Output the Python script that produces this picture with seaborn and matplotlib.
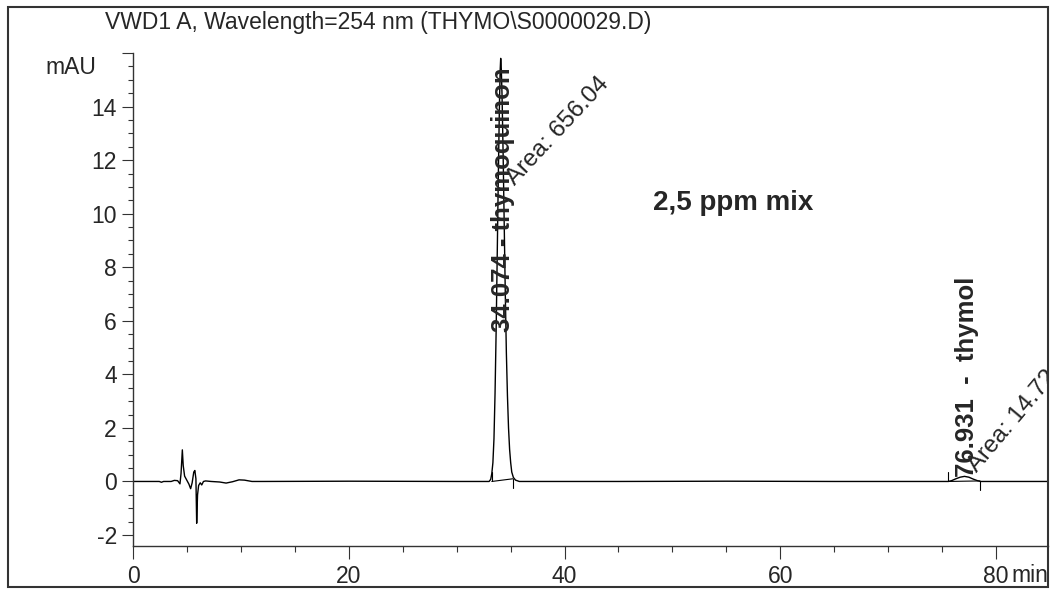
import matplotlib
matplotlib.use("Agg")
import matplotlib.pyplot as plt
from matplotlib.patches import Rectangle
from matplotlib.ticker import MultipleLocator, FixedLocator
import numpy as np
import pandas as pd
import seaborn as sns

# ---------------- data ----------------
time_min = [0.0, 2.4, 2.6, 2.8, 3.5, 3.8, 4.1, 4.32, 4.42, 4.54, 4.62, 4.75, 4.95,
            5.15, 5.31, 5.45, 5.6, 5.7, 5.8, 5.87, 5.95, 6.05, 6.2, 6.34, 6.5, 6.7,
            7.2, 8.0, 8.6, 9.2, 9.8, 10.3, 11.0, 12.0, 20.0, 30.0, 33.0,
            33.15, 33.25, 33.35, 33.45, 33.55, 33.65, 33.75, 33.85, 33.95, 34.02,
            34.074, 34.13, 34.2, 34.3, 34.4, 34.5, 34.6, 34.7, 34.8, 34.9, 35.0,
            35.1, 35.25, 35.45, 35.8, 45.0, 55.0, 65.0, 75.6,
            75.9, 76.3, 76.7, 77.1, 77.5, 77.9, 78.3, 78.6, 84.8]
signal_mau = [0.0, 0.0, -0.03, 0.0, 0.0, 0.04, 0.03, -0.09, 0.3, 1.18, 0.6, 0.2, 0.05,
              -0.1, -0.27, -0.05, 0.35, 0.41, 0.1, -1.56, -0.5, -0.15, -0.05, -0.13, 0.0, 0.02,
              0.0, -0.02, -0.06, -0.01, 0.06, 0.05, 0.0, 0.0, 0.01, 0.0, 0.0,
              0.08, 0.3, 0.7, 1.6, 3.3, 5.6, 8.4, 11.3, 13.9, 15.3,
              15.8, 15.4, 14.4, 12.2, 9.6, 7.0, 4.8, 3.2, 2.0, 1.2, 0.7,
              0.35, 0.15, 0.05, 0.0, 0.0, 0.01, 0.0, 0.0,
              0.03, 0.1, 0.16, 0.19, 0.16, 0.09, 0.03, 0.0, 0.0]

peak_rt = [34.074, 76.931]
peak_labels = ["34.074 - thymoquinon", "76.931  -  thymol"]
peak_areas = ["656.04", "14.72"]
peak_start = [33.25, 75.58]
peak_end = [35.2, 78.53]
peak_end_level = [0.1, 0.02]

y_major = [-2, 0, 2, 4, 6, 8, 10, 12, 14, 16]
y_labels = ["-2", "0", "2", "4", "6", "8", "10", "12", "14", ""]
x_major = [0, 20, 40, 60, 80]
x_labels = ["0", "20", "40", "60", "80"]

title = "VWD1 A, Wavelength=254 nm (THYMO\\S0000029.D)"
sample_note = "2,5 ppm mix"

# ---------------- figure ----------------
sns.set_style("ticks")
plt.rcParams["font.family"] = ["Liberation Sans", "DejaVu Sans"]

W, H = 1051, 589
fig = plt.figure(figsize=(W / 100, H / 100), dpi=100)
fig.patch.set_facecolor("white")

ax_l, ax_r, ax_t, ax_b = 133.4, 1047.5, 53.0, 546.0
ax = fig.add_axes([ax_l / W, 1 - ax_b / H, (ax_r - ax_l) / W, (ax_b - ax_t) / H])

df = pd.DataFrame({"t": time_min, "s": signal_mau})
sns.lineplot(data=df, x="t", y="s", ax=ax, color="black", lw=1.0,
             estimator=None, sort=False)

# integration baselines and peak start / end markers
for s0, e0, el in zip(peak_start, peak_end, peak_end_level):
    ax.plot([s0, e0], [0, el], color="black", lw=0.8)
    ax.plot([s0, s0], [0, 0.37], color="black", lw=0.8)
    ax.plot([e0, e0], [el, el - 0.33], color="black", lw=0.8)

ax.set_xlim(0, 84.8)
ax.set_ylim(-2.41, 16)
ax.set_xlabel("")
ax.set_ylabel("")

ax.yaxis.set_major_locator(FixedLocator(y_major))
ax.set_yticklabels(y_labels)
ax.yaxis.set_minor_locator(MultipleLocator(0.5))
ax.xaxis.set_major_locator(FixedLocator(x_major))
ax.set_xticklabels(x_labels)
ax.xaxis.set_minor_locator(MultipleLocator(5))

ax.tick_params(axis="y", which="major", direction="out", length=7.9, width=0.8,
               color="#333333", labelsize=16.5, pad=4)
ax.tick_params(axis="y", which="minor", direction="out", length=3.6, width=0.8,
               color="#333333")
ax.tick_params(axis="x", which="major", direction="out", length=9.4, width=0.8,
               color="#333333", labelsize=16.5, pad=4)
ax.tick_params(axis="x", which="minor", direction="out", length=4.3, width=0.8,
               color="#333333")

for sp in ["top", "right"]:
    ax.spines[sp].set_visible(False)
for sp in ["left", "bottom"]:
    ax.spines[sp].set_color("#333333")
    ax.spines[sp].set_linewidth(1.0)

# peak labels
label_x_off = [0.2, 0.4]
label_y = [5.57, 0.15]
area_xy = [(35.7, 10.9), (78.6, 0.2)]
area_rot = [47, 50]
for i in range(2):
    ax.text(peak_rt[i] + label_x_off[i], label_y[i], peak_labels[i], rotation=90,
            ha="center", va="bottom", fontsize=18.5, fontweight="bold",
            clip_on=False)
    ax.text(area_xy[i][0], area_xy[i][1], f"Area: {peak_areas[i]}",
            rotation=area_rot[i], rotation_mode="anchor",
            ha="left", va="bottom", fontsize=17.5, clip_on=True)

ax.text(55.6, 10.4, sample_note, ha="center", va="center", fontsize=20,
        fontweight="bold")

# unit labels and title
fig.text(96 / W, 1 - 67 / H, "mAU", ha="right", va="center", fontsize=16.5)
fig.text(1011 / W, 1 - 576 / H, "min", ha="left", va="center", fontsize=16.5)
fig.text(105 / W, 1 - 22 / H, title, ha="left", va="center", fontsize=16.5)

# outer frame
fig.patches.append(Rectangle((8 / W, 2 / H), (1047.5 - 8) / W, (587 - 6.5) / H,
                             transform=fig.transFigure, fill=False,
                             edgecolor="#333333", lw=1.5))

fig.savefig("out.png", dpi=100)
